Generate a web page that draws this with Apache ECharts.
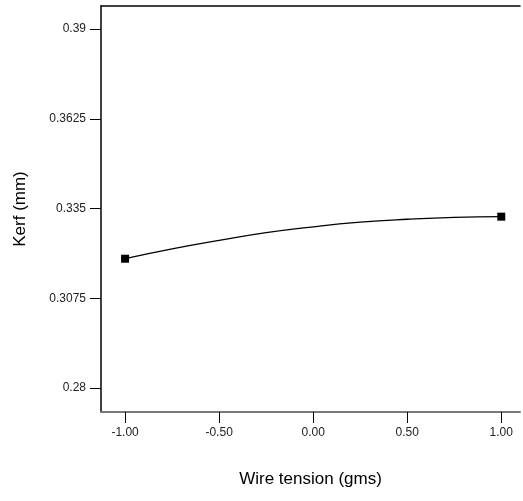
<!DOCTYPE html>
<html>
<head>
<meta charset="utf-8">
<script src="https://cdn.jsdelivr.net/npm/echarts@6/dist/echarts.min.js"></script>
<style>
html,body{margin:0;padding:0;background:#fff;overflow:hidden;}
#chart{width:523px;height:501px;}
</style>
</head>
<body>
<div id="chart"></div>
<script>
// Data
const xTicks = [-1.00, -0.50, 0.00, 0.50, 1.00];
const yTicks = [0.28, 0.3075, 0.335, 0.3625, 0.39];
const curveX = [-1.00, -0.75, -0.50, -0.25, 0.00, 0.25, 0.50, 0.75, 1.00];
const curveY = [0.3196, 0.3226, 0.3252, 0.3276, 0.3294, 0.3308, 0.3317, 0.3323, 0.3325];
const designX = [-1.00, 1.00];
const designY = [0.3196, 0.3325];

const xName = 'Wire tension (gms)';
const yName = 'Kerf (mm)';

const FONT = '"Liberation Sans", Arial, sans-serif';

const chart = echarts.init(document.getElementById('chart'));
const xMin = -1.128, xMax = 1.0995;
const yMin = 0.2726, yMax = 0.3971;

chart.setOption({
  animation: false,
  backgroundColor: '#fff',
  grid: { left: 101, right: 3, top: 6, bottom: 89, containLabel: false },
  xAxis: [{
    type: 'value', min: xMin, max: xMax, position: 'bottom',
    name: xName, nameLocation: 'middle', nameGap: 59,
    nameTextStyle: { fontFamily: FONT, fontSize: 17, color: '#000' },
    axisLine: { show: true, onZero: false, lineStyle: { color: '#7a7a7a', width: 2 } },
    axisTick: { show: true, inside: false, length: 11, customValues: xTicks, lineStyle: { color: '#000', width: 1 } },
    axisLabel: { show: true, margin: 15, customValues: xTicks, fontFamily: FONT, fontSize: 12, color: '#222',
      formatter: v => v.toFixed(2) },
    splitLine: { show: false }
  }, {
    type: 'value', min: xMin, max: xMax, position: 'top',
    axisLine: { show: true, onZero: false, lineStyle: { color: '#000', width: 1.5 } },
    axisTick: { show: false }, axisLabel: { show: false }, splitLine: { show: false }
  }],
  yAxis: {
    type: 'value', min: yMin, max: yMax,
    name: yName, nameLocation: 'middle', nameGap: 72,
    nameTextStyle: { fontFamily: FONT, fontSize: 17, color: '#000' },
    axisLine: { show: true, onZero: false, lineStyle: { color: '#000', width: 1.5 } },
    axisTick: { show: true, inside: false, length: 11, customValues: yTicks, lineStyle: { color: '#000', width: 1 } },
    axisLabel: { show: true, margin: 15, customValues: yTicks, fontFamily: FONT, fontSize: 12, color: '#222',
      formatter: v => String(+v.toFixed(4)) },
    splitLine: { show: false }
  },
  series: [{
    type: 'line', smooth: true, showSymbol: false, symbol: 'none',
    data: curveX.map((x, i) => [x, curveY[i]]),
    lineStyle: { color: '#000', width: 1.3 }
  }, {
    type: 'scatter', symbol: 'rect', symbolSize: 8,
    data: designX.map((x, i) => [x, designY[i]]),
    itemStyle: { color: '#000', opacity: 1 }
  }]
});
</script>
</body>
</html>
